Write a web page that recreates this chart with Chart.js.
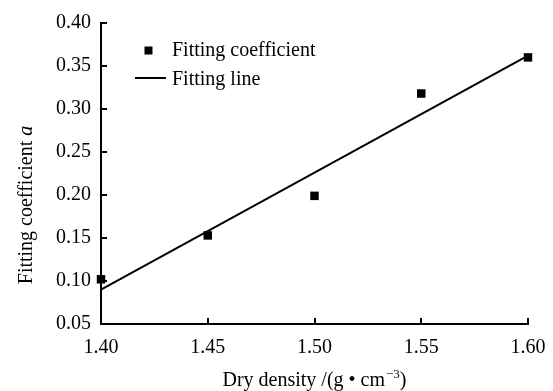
<!DOCTYPE html>
<html>
<head>
<meta charset="utf-8">
<script src="https://cdn.jsdelivr.net/npm/chart.js@4/dist/chart.umd.min.js"></script>
<style>
  html, body { margin: 0; padding: 0; background: #fff; }
  #wrap { width: 553px; height: 391px; }
</style>
</head>
<body>
<div id="wrap"><canvas id="c" width="553" height="391"></canvas></div>
<script>
// ---- data ----
const dryDensity = [1.40, 1.45, 1.50, 1.55, 1.60];
const fittingCoefficient = [0.102, 0.153, 0.199, 0.318, 0.360];
const fitLineX = [1.40, 1.60];
const fitLineY = [0.090, 0.362];
const xTickValues = [1.40, 1.45, 1.50, 1.55, 1.60];
const yTickValues = [0.05, 0.10, 0.15, 0.20, 0.25, 0.30, 0.35, 0.40];
const seriesLabels = ["Fitting coefficient", "Fitting line"];
const yTitleMain = "Fitting coefficient ";
const yTitleItalic = "a";
const xTitleMain = "Dry density /(g \u2022 cm";
const xTitleSup = "\u22123";
const xTitleEnd = ")";

const FONT = '"Liberation Serif", "Times New Roman", serif';
const FS = 20;

const overlay = {
  id: 'overlay',
  afterDraw(chart) {
    const ctx = chart.ctx;
    const xs = chart.scales.x, ys = chart.scales.y;
    const area = chart.chartArea;
    ctx.save();
    ctx.strokeStyle = '#000';
    ctx.lineWidth = 2;
    // inward ticks
    ctx.beginPath();
    xTickValues.forEach(v => {
      const px = Math.round(xs.getPixelForValue(v));
      ctx.moveTo(px, area.bottom);
      ctx.lineTo(px, area.bottom - 6);
    });
    yTickValues.forEach(v => {
      const py = Math.round(ys.getPixelForValue(v));
      ctx.moveTo(area.left, py);
      ctx.lineTo(area.left + 6, py);
    });
    ctx.stroke();

    ctx.fillStyle = '#000';
    // y title
    ctx.save();
    ctx.translate(27, 205);
    ctx.rotate(-Math.PI / 2);
    ctx.font = FS + 'px ' + FONT;
    const w1 = ctx.measureText(yTitleMain).width;
    ctx.font = 'italic ' + FS + 'px ' + FONT;
    const w2 = ctx.measureText(yTitleItalic).width;
    const start = -(w1 + w2) / 2;
    ctx.textBaseline = 'middle';
    ctx.textAlign = 'left';
    ctx.font = FS + 'px ' + FONT;
    ctx.fillText(yTitleMain, start, 0);
    ctx.font = 'italic ' + FS + 'px ' + FONT;
    ctx.fillText(yTitleItalic, start + w1, 0);
    ctx.restore();

    // x title
    ctx.textBaseline = 'alphabetic';
    ctx.textAlign = 'left';
    ctx.font = FS + 'px ' + FONT;
    const a1 = ctx.measureText(xTitleMain).width;
    const a3 = ctx.measureText(xTitleEnd).width;
    ctx.font = '13px ' + FONT;
    const a2 = ctx.measureText(xTitleSup).width;
    let x0 = 314 - (a1 + a2 + a3) / 2;
    const base = 386;
    ctx.font = FS + 'px ' + FONT;
    ctx.fillText(xTitleMain, x0, base);
    ctx.font = '13px ' + FONT;
    ctx.fillText(xTitleSup, x0 + a1 + 1, base - 8);
    ctx.font = FS + 'px ' + FONT;
    ctx.fillText(xTitleEnd, x0 + a1 + a2 + 1, base);

    // legend
    ctx.fillRect(144.5, 46.5, 8, 8);
    ctx.fillText(seriesLabels[0], 172, 56);
    ctx.beginPath();
    ctx.moveTo(135, 78);
    ctx.lineTo(166, 78);
    ctx.stroke();
    ctx.fillText(seriesLabels[1], 172, 85);
    ctx.restore();
  }
};

new Chart(document.getElementById('c'), {
  type: 'scatter',
  data: {
    datasets: [
      {
        label: seriesLabels[0],
        data: dryDensity.map((x, i) => ({ x: x, y: fittingCoefficient[i] })),
        pointStyle: 'rect',
        pointRadius: 6,
        pointHoverRadius: 6,
        backgroundColor: '#000',
        borderWidth: 0,
        showLine: false,
        clip: false
      },
      {
        label: seriesLabels[1],
        data: fitLineX.map((x, i) => ({ x: x, y: fitLineY[i] })),
        showLine: true,
        borderColor: '#000',
        borderWidth: 2,
        pointRadius: 0,
        pointHoverRadius: 0,
        fill: false,
        clip: false
      }
    ]
  },
  options: {
    responsive: false,
    animation: false,
    events: [],
    layout: { padding: { left: 0, top: 23, right: 25, bottom: 0 } },
    plugins: { legend: { display: false }, tooltip: { enabled: false } },
    scales: {
      x: {
        type: 'linear',
        min: 1.40, max: 1.60,
        afterBuildTicks: s => { s.ticks = xTickValues.map(v => ({ value: v })); },
        afterFit: s => { s.height = 67; s.paddingLeft = 0; s.paddingRight = 0; },
        grid: { display: true, drawOnChartArea: false, drawTicks: false },
        border: { display: true, color: '#000', width: 2 },
        ticks: {
          color: '#000',
          padding: 12,
          font: { family: FONT, size: FS },
          maxRotation: 0,
          callback: v => Number(v).toFixed(2)
        }
      },
      y: {
        type: 'linear',
        min: 0.05, max: 0.40,
        afterBuildTicks: s => { s.ticks = yTickValues.map(v => ({ value: v })); },
        afterFit: s => { s.width = 101; s.paddingTop = 0; s.paddingBottom = 0; },
        grid: { display: true, drawOnChartArea: false, drawTicks: false },
        border: { display: true, color: '#000', width: 2 },
        ticks: {
          color: '#000',
          padding: 10,
          font: { family: FONT, size: FS },
          callback: v => Number(v).toFixed(2)
        }
      }
    }
  },
  plugins: [overlay]
});
</script>
</body>
</html>
